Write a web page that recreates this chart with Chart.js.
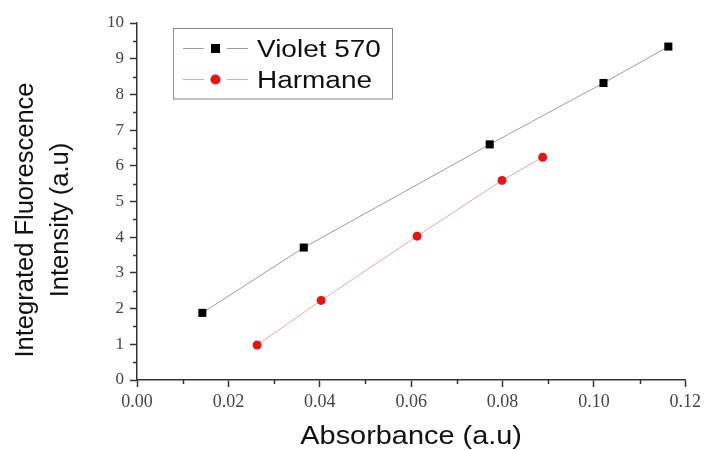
<!DOCTYPE html>
<html>
<head>
<meta charset="utf-8">
<script src="https://cdn.jsdelivr.net/npm/chart.js@4.4.1/dist/chart.umd.min.js"></script>
<style>
  html, body { margin: 0; padding: 0; background: #fff; }
  #wrap { width: 705px; height: 450px; }
</style>
</head>
<body>
<div id="wrap"><canvas id="fluoChart" width="705" height="450"></canvas></div>
<script>
// values
const violetAbs = [0.0143, 0.0365, 0.0772, 0.1021, 0.1163];
const violetInt = [1.88, 3.71, 6.60, 8.32, 9.34];
const harmaneAbs = [0.0263, 0.0403, 0.0613, 0.0799, 0.0888];
const harmaneInt = [0.98, 2.23, 4.03, 5.59, 6.24];
const seriesNames = ['Violet 570', 'Harmane'];
const xTitle = 'Absorbance (a.u)';
const yTitle = ['Integrated Fluorescence', 'Intensity (a.u)'];

const sansFont = '"Liberation Sans", Arial, sans-serif';
const serifFont = '"Liberation Serif", "Times New Roman", serif';

function toPoints(xs, ys) {
  return xs.map(function(x, i) { return { x: x, y: ys[i] }; });
}

// text with a bit of horizontal stretch, like the original picture
function stretchedText(ctx, text, x, y, sx, align) {
  ctx.save();
  ctx.translate(x, y);
  ctx.scale(sx, 1);
  ctx.textAlign = align;
  ctx.fillText(text, 0, 0);
  ctx.restore();
}

// small in-between ticks (0.01 on x, 0.5 on y)
const minorTicks = {
  id: 'minorTicks',
  afterDraw: function(chart) {
    const ctx = chart.ctx;
    const xs = chart.scales.x, ys = chart.scales.y;
    const area = chart.chartArea;
    ctx.save();
    ctx.strokeStyle = '#333';
    ctx.lineWidth = 1.5;
    ctx.beginPath();
    for (let v = 0.01; v < 0.12; v += 0.02) {
      const px = Math.round(xs.getPixelForValue(v)) + 0.5;
      ctx.moveTo(px, area.bottom);
      ctx.lineTo(px, area.bottom + 4);
    }
    for (let v = 0.5; v < 10; v += 1) {
      const py = Math.round(ys.getPixelForValue(v)) + 0.5;
      ctx.moveTo(area.left, py);
      ctx.lineTo(area.left - 4, py);
    }
    ctx.stroke();
    ctx.restore();
  }
};

// axis titles
const axisTitles = {
  id: 'axisTitles',
  afterDraw: function(chart) {
    const ctx = chart.ctx;
    const area = chart.chartArea;
    ctx.save();
    ctx.fillStyle = '#111';
    ctx.textBaseline = 'alphabetic';
    ctx.font = '26.5px ' + sansFont;
    stretchedText(ctx, xTitle, (area.left + area.right) / 2, 444, 1.09, 'center');

    ctx.font = '25.5px ' + sansFont;
    const baselines = [33, 68];
    yTitle.forEach(function(line, i) {
      ctx.save();
      ctx.translate(baselines[i], 220);
      ctx.rotate(-Math.PI / 2);
      ctx.textAlign = 'center';
      ctx.fillText(line, 0, 0);
      ctx.restore();
    });
    ctx.restore();
  }
};

// boxed legend in the upper left corner
const boxLegend = {
  id: 'boxLegend',
  afterDraw: function(chart) {
    const ctx = chart.ctx;
    const sets = chart.data.datasets;
    ctx.save();
    ctx.strokeStyle = '#8a8a8a';
    ctx.lineWidth = 1;
    ctx.strokeRect(173.5, 28.5, 219, 70.5);
    ctx.font = '23.5px ' + sansFont;
    ctx.textBaseline = 'alphabetic';
    const rows = [48.5, 79.5];
    const baselines = [56.5, 88];
    sets.forEach(function(ds, i) {
      const y = rows[i];
      ctx.strokeStyle = ds.borderColor;
      ctx.lineWidth = 1;
      ctx.beginPath();
      ctx.moveTo(183, y);
      ctx.lineTo(204, y);
      ctx.moveTo(227, y);
      ctx.lineTo(248, y);
      ctx.stroke();
      ctx.fillStyle = ds.pointBackgroundColor;
      if (ds.pointStyle === 'rect') {
        ctx.fillRect(211, y - 4.5, 9, 9);
      } else {
        ctx.beginPath();
        ctx.arc(215.5, y, 5, 0, Math.PI * 2);
        ctx.fill();
      }
      ctx.fillStyle = '#111';
      stretchedText(ctx, seriesNames[i], 257, baselines[i], 1.19, 'left');
    });
    ctx.restore();
  }
};

const ctx = document.getElementById('fluoChart').getContext('2d');
new Chart(ctx, {
  type: 'scatter',
  data: {
    datasets: [{
      label: seriesNames[0],
      data: toPoints(violetAbs, violetInt),
      showLine: true,
      borderColor: '#9c9c9c',
      borderWidth: 1,
      pointStyle: 'rect',
      pointRadius: 5.7,
      pointBackgroundColor: '#000',
      pointBorderWidth: 0,
      clip: false
    }, {
      label: seriesNames[1],
      data: toPoints(harmaneAbs, harmaneInt),
      showLine: true,
      borderColor: '#e8a6a6',
      borderWidth: 1,
      pointStyle: 'circle',
      pointRadius: 4.5,
      pointBackgroundColor: '#ec1212',
      pointBorderWidth: 0,
      clip: false
    }]
  },
  options: {
    responsive: false,
    devicePixelRatio: 1,
    animation: false,
    layout: { padding: { left: 0, right: 19, top: 23, bottom: 0 } },
    plugins: {
      legend: { display: false },
      tooltip: { enabled: false }
    },
    scales: {
      x: {
        type: 'linear',
        min: 0,
        max: 0.12,
        afterFit: function(scale) { scale.height = 70; },
        border: { display: true, color: '#333', width: 1.5 },
        grid: { drawOnChartArea: false, drawTicks: true, tickLength: 7, tickColor: '#333', tickWidth: 1.5 },
        ticks: {
          stepSize: 0.02,
          padding: 4,
          color: '#444',
          font: { family: serifFont, size: 18 },
          callback: function(v) { return v.toFixed(2); }
        }
      },
      y: {
        min: 0,
        max: 10,
        afterFit: function(scale) { scale.width = 137; },
        border: { display: true, color: '#333', width: 1.5 },
        grid: { drawOnChartArea: false, drawTicks: true, tickLength: 7, tickColor: '#333', tickWidth: 1.5 },
        ticks: {
          stepSize: 1,
          padding: 6,
          color: '#444',
          font: { family: serifFont, size: 17 }
        }
      }
    }
  },
  plugins: [minorTicks, axisTitles, boxLegend]
});
</script>
</body>
</html>
